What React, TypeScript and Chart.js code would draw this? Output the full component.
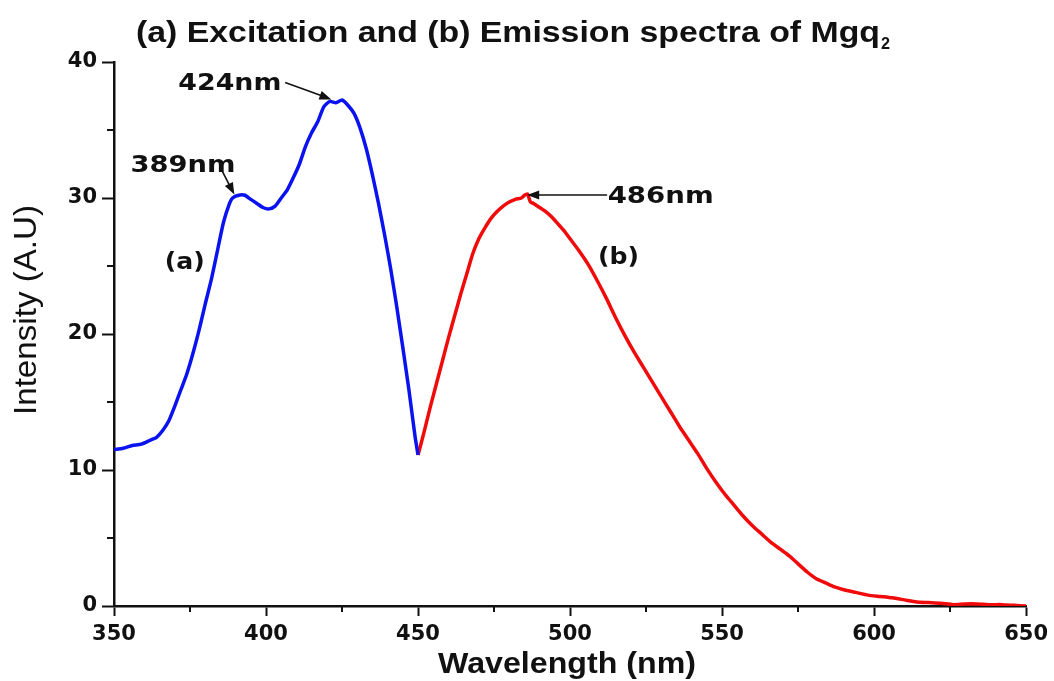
import React, { useEffect, useRef } from 'react';
import { Chart, registerables } from 'chart.js';

Chart.register(...registerables);

// ---------- data ----------
const excitationNm = [
  350, 353, 356, 359, 362, 364, 366, 368, 370, 372, 374, 376, 378, 380, 382, 384, 386, 388, 389,
  391, 393, 395, 397, 399, 401, 403, 405, 407, 409, 411, 413, 415, 417, 419, 421, 423, 425,
  427, 429, 431, 433, 435, 437, 439, 441, 443, 445, 447, 449, 450,
];
const excitationI = [
  11.5, 11.6, 11.8, 11.9, 12.2, 12.4, 12.9, 13.6, 14.7, 15.9, 17.1, 18.6, 20.3, 22.2, 24.0, 26.1, 28.2, 29.6, 30.0,
  30.2, 30.2, 29.9, 29.6, 29.3, 29.2, 29.4, 30.0, 30.6, 31.5, 32.5, 33.8, 34.8, 35.6, 36.7, 37.1, 37.0, 37.2,
  36.8, 36.2, 35.1, 33.6, 31.7, 29.6, 27.3, 24.8, 22.0, 19.0, 15.9, 12.5, 11.1,
];

const emissionNm = [
  450, 452, 454, 456, 458, 460, 462, 464, 466, 468, 470, 472, 474, 476, 478, 480, 482, 484, 485, 486,
  487, 488, 490, 492, 494, 496, 498, 500, 503, 506, 509, 512, 515, 518, 521, 524, 527, 530, 533, 536,
  539, 542, 545, 548, 551, 554, 557, 560, 563, 566, 569, 572, 575, 578, 581, 584, 587, 590, 594, 598,
  602, 606, 610, 614, 618, 622, 626, 630, 634, 638, 642, 646, 650,
];
const emissionI = [
  11.1, 12.8, 14.6, 16.3, 18.0, 19.7, 21.3, 22.9, 24.4, 25.9, 27.0, 27.8, 28.5, 29.0, 29.4, 29.7, 29.9, 30.0, 30.2, 30.3,
  29.7, 29.6, 29.3, 29.0, 28.6, 28.1, 27.6, 27.0, 26.1, 25.1, 23.9, 22.6, 21.2, 19.9, 18.7, 17.6, 16.5, 15.4, 14.3, 13.2,
  12.2, 11.2, 10.1, 9.1, 8.2, 7.4, 6.6, 5.9, 5.3, 4.7, 4.2, 3.7, 3.1, 2.5, 2.0, 1.7, 1.4, 1.2, 1.0, 0.8,
  0.7, 0.6, 0.45, 0.3, 0.25, 0.2, 0.1, 0.15, 0.15, 0.1, 0.1, 0.05, 0.0,
];

const xTickValues = [350, 400, 450, 500, 550, 600, 650];
const xMinorTicks = [375, 425, 475, 525, 575, 625];
const yTickValues = [0, 10, 20, 30, 40];
const yMinorTicks = [5, 15, 25, 35];

const titleMain = '(a) Excitation and (b) Emission spectra of Mgq';
const titleSub = '2';
const xTitle = 'Wavelength (nm)';
const yTitle = 'Intensity (A.U)';
const peakTexts = ['424nm', '389nm', '486nm'];
const curveTexts = ['(a)', '(b)'];

// ---------- annotation placement (data coordinates) ----------
const peakLabelPos = [
  { x: 388.1, y: 37.94, w: 103, tail: { x: 406.3, y: 38.5 }, tip: { x: 421.5, y: 37.25 } },
  { x: 372.7, y: 31.93, w: 105, tail: { x: 385.3, y: 32.1 }, tip: { x: 389.6, y: 30.25 } },
  { x: 529.8, y: 29.63, w: 106, tail: { x: 512.2, y: 30.22 }, tip: { x: 485.9, y: 30.22 } },
];
const curveLabelPos = [
  { x: 373.3, y: 24.8, w: 40 },
  { x: 515.9, y: 25.15, w: 41 },
];

function drawStretched(
  ctx: CanvasRenderingContext2D,
  text: string,
  x: number,
  y: number,
  font: string,
  width: number,
  align: 'left' | 'center',
  rotate = 0
) {
  ctx.save();
  ctx.font = font;
  const w = ctx.measureText(text).width;
  const sx = width / w;
  ctx.translate(x, y);
  if (rotate) ctx.rotate(rotate);
  ctx.scale(sx, 1);
  ctx.textAlign = align;
  ctx.textBaseline = 'alphabetic';
  ctx.fillStyle = '#111';
  ctx.fillText(text, 0, 0);
  ctx.restore();
}

function drawArrow(ctx: CanvasRenderingContext2D, x1: number, y1: number, x2: number, y2: number) {
  const ang = Math.atan2(y2 - y1, x2 - x1);
  const headLen = 12;
  const headHalf = 4.5;
  ctx.save();
  ctx.strokeStyle = '#111';
  ctx.fillStyle = '#111';
  ctx.lineWidth = 1.6;
  ctx.beginPath();
  ctx.moveTo(x1, y1);
  ctx.lineTo(x2 - Math.cos(ang) * headLen * 0.8, y2 - Math.sin(ang) * headLen * 0.8);
  ctx.stroke();
  ctx.beginPath();
  ctx.moveTo(x2, y2);
  ctx.lineTo(
    x2 - Math.cos(ang) * headLen + Math.sin(ang) * headHalf,
    y2 - Math.sin(ang) * headLen - Math.cos(ang) * headHalf
  );
  ctx.lineTo(
    x2 - Math.cos(ang) * headLen - Math.sin(ang) * headHalf,
    y2 - Math.sin(ang) * headLen + Math.cos(ang) * headHalf
  );
  ctx.closePath();
  ctx.fill();
  ctx.restore();
}

const decorPlugin = {
  id: 'decor',
  afterDraw(chart: any) {
    const ctx: CanvasRenderingContext2D = chart.ctx;
    const xs = chart.scales.x;
    const ys = chart.scales.y;
    const area = chart.chartArea;

    // minor ticks
    ctx.save();
    ctx.strokeStyle = '#111';
    ctx.lineWidth = 2;
    xMinorTicks.forEach((v) => {
      const px = Math.round(xs.getPixelForValue(v));
      ctx.beginPath();
      ctx.moveTo(px, area.bottom);
      ctx.lineTo(px, area.bottom + 6);
      ctx.stroke();
    });
    yMinorTicks.forEach((v) => {
      const py = Math.round(ys.getPixelForValue(v));
      ctx.beginPath();
      ctx.moveTo(area.left, py);
      ctx.lineTo(area.left - 7, py);
      ctx.stroke();
    });
    ctx.restore();

    // title
    const titleFont = 'bold 30px "Liberation Sans", Arial, sans-serif';
    drawStretched(ctx, titleMain, 136, 42, titleFont, 744, 'left');
    drawStretched(ctx, titleSub, 881, 49, 'bold 16px "Liberation Sans", Arial, sans-serif', 9, 'left');

    // axis titles
    drawStretched(ctx, xTitle, 567, 673, 'bold 30px "Liberation Sans", Arial, sans-serif', 258, 'center');
    drawStretched(ctx, yTitle, 36, 310, '31px "Liberation Sans", Arial, sans-serif', 210, 'center', -Math.PI / 2);

    // peak labels + arrows
    const annFont = 'bold 23px "DejaVu Sans", sans-serif';
    peakTexts.forEach((t, i) => {
      const p = peakLabelPos[i];
      drawStretched(ctx, t, xs.getPixelForValue(p.x), ys.getPixelForValue(p.y), annFont, p.w, 'center');
      drawArrow(
        ctx,
        xs.getPixelForValue(p.tail.x),
        ys.getPixelForValue(p.tail.y),
        xs.getPixelForValue(p.tip.x),
        ys.getPixelForValue(p.tip.y)
      );
    });
    curveTexts.forEach((t, i) => {
      const p = curveLabelPos[i];
      drawStretched(ctx, t, xs.getPixelForValue(p.x), ys.getPixelForValue(p.y), annFont, p.w, 'center');
    });
  },
};

export default function App() {
  const canvasRef = useRef<HTMLCanvasElement | null>(null);

  useEffect(() => {
    document.body.style.margin = '0';
    const canvas = canvasRef.current;
    if (!canvas) return;

    const excitation = excitationNm.map((x, i) => ({ x, y: excitationI[i] }));
    const emission = emissionNm.map((x, i) => ({ x, y: emissionI[i] }));

    const tickFont = { family: '"DejaVu Sans", sans-serif', size: 21, weight: 'bold' as const };

    const chart = new Chart(canvas, {
      type: 'line',
      data: {
        datasets: [
          {
            label: '(a) Excitation',
            data: excitation,
            borderColor: '#0a12f0',
            borderWidth: 3.5,
            pointRadius: 0,
            tension: 0.2,
            fill: false,
          },
          {
            label: '(b) Emission',
            data: emission,
            borderColor: '#f00a0a',
            borderWidth: 3.5,
            pointRadius: 0,
            tension: 0.2,
            fill: false,
          },
        ],
      },
      options: {
        responsive: false,
        animation: false,
        devicePixelRatio: 1,
        layout: { padding: { left: 0, right: 26, top: 62, bottom: 0 } },
        plugins: {
          legend: { display: false },
          tooltip: { enabled: false },
          title: { display: false },
        },
        scales: {
          x: {
            type: 'linear',
            min: 350,
            max: 650,
            afterFit: (scale: any) => {
              scale.height = 75;
            },
            afterBuildTicks: (scale: any) => {
              scale.ticks = xTickValues.map((v) => ({ value: v }));
            },
            ticks: {
              color: '#111',
              font: tickFont,
              padding: 6,
              maxRotation: 0,
              callback: (v: any) => String(v),
            },
            grid: {
              display: true,
              drawOnChartArea: false,
              drawTicks: true,
              tickLength: 10,
              tickWidth: 2,
              tickColor: '#111',
            },
            border: { display: true, color: '#111', width: 2.5 },
          },
          y: {
            type: 'linear',
            min: 0,
            max: 40,
            afterFit: (scale: any) => {
              scale.width = 114;
            },
            afterBuildTicks: (scale: any) => {
              scale.ticks = yTickValues.map((v) => ({ value: v }));
            },
            ticks: {
              color: '#111',
              font: tickFont,
              padding: 5,
              callback: (v: any) => String(v),
            },
            grid: {
              display: true,
              drawOnChartArea: false,
              drawTicks: true,
              tickLength: 12,
              tickWidth: 2,
              tickColor: '#111',
            },
            border: { display: true, color: '#111', width: 2.5 },
          },
        },
      },
      plugins: [decorPlugin],
    });

    return () => {
      chart.destroy();
    };
  }, []);

  return (
    <div style={{ position: 'fixed', left: 0, top: 0, width: 1054, height: 681, background: '#fff' }}>
      <canvas ref={canvasRef} width={1054} height={681} style={{ display: 'block' }} />
    </div>
  );
}
